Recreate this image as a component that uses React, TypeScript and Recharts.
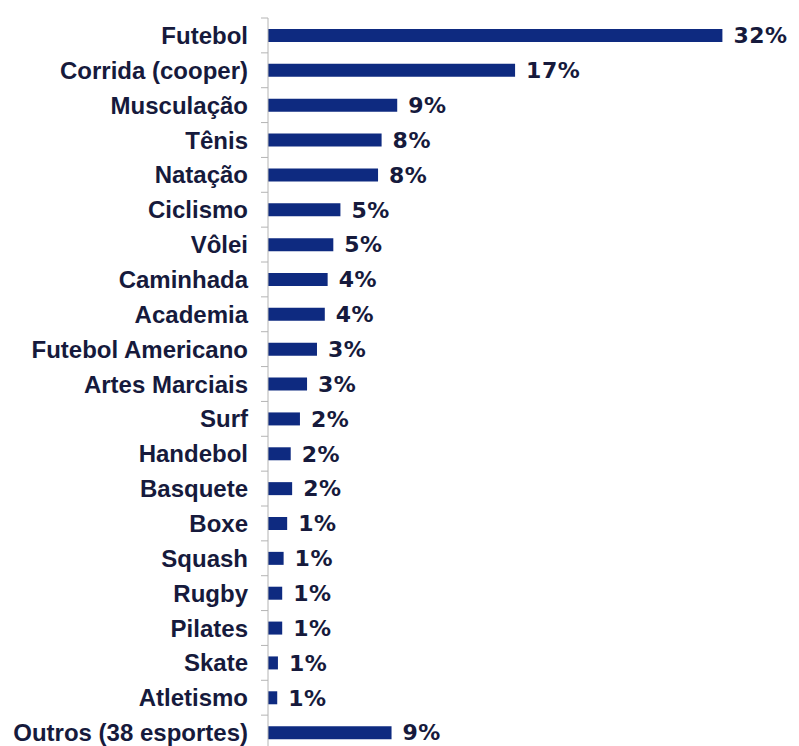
import React from 'react';
import { BarChart, Bar, XAxis, YAxis, LabelList } from 'recharts';

// Share of respondents per sport (%)
const sports = [
  'Futebol',
  'Corrida (cooper)',
  'Musculação',
  'Tênis',
  'Natação',
  'Ciclismo',
  'Vôlei',
  'Caminhada',
  'Academia',
  'Futebol Americano',
  'Artes Marciais',
  'Surf',
  'Handebol',
  'Basquete',
  'Boxe',
  'Squash',
  'Rugby',
  'Pilates',
  'Skate',
  'Atletismo',
  'Outros (38 esportes)',
];
const shares = [32.0, 17.4, 9.1, 8.0, 7.75, 5.1, 4.6, 4.2, 4.0, 3.45, 2.75, 2.25, 1.6, 1.7, 1.35, 1.1, 1.0, 1.0, 0.7, 0.65, 8.7];

const data = sports.map((name, i) => ({ name, value: shares[i] }));

const FONT = '"Liberation Sans", Arial, sans-serif';
const VALUE_FONT = '"DejaVu Sans", Verdana, sans-serif';
const TEXT = '#161a3c';
const BAR = '#0e2a80';
const AXIS = '#b4b4b4';

const CHART_H = 750;
const MARGIN_TOP = 18;
const GAP = 20; // distance from label end to axis line
const band = (CHART_H - MARGIN_TOP) / sports.length;

function CategoryTick(props: any) {
  const { x, y, payload } = props;
  const ax = x + GAP;
  return (
    <g>
      {/* Excel-style tick between categories */}
      <line x1={ax - 7} x2={ax} y1={y - band / 2} y2={y - band / 2} stroke={AXIS} strokeWidth={1} />
      <text
        x={x}
        y={y}
        dy="0.355em"
        textAnchor="end"
        fill={TEXT}
        fontSize={24}
        fontWeight="bold"
        fontFamily={FONT}
      >
        {payload.value}
      </text>
    </g>
  );
}

export default function App() {
  return (
    <div style={{ width: 799, height: 746, overflow: 'hidden', background: '#fff' }}>
      <style>{'body{margin:0}'}</style>
      <BarChart
        width={799}
        height={CHART_H}
        data={data}
        layout="vertical"
        margin={{ top: MARGIN_TOP, right: 34, bottom: 0, left: 0 }}
      >
        <XAxis type="number" domain={[0, 35]} hide />
        <YAxis
          type="category"
          dataKey="name"
          width={268}
          interval={0}
          tickSize={0}
          tickMargin={GAP}
          axisLine={{ stroke: AXIS }}
          tickLine={false}
          tick={<CategoryTick />}
        />
        <Bar dataKey="value" fill={BAR} barSize={13} isAnimationActive={false}>
          <LabelList
            dataKey="value"
            position="right"
            offset={11}
            formatter={(v: any) => `${Math.round(Number(v))}%`}
            fill={TEXT}
            fontSize={22}
            fontWeight="bold"
            fontFamily={VALUE_FONT}
            letterSpacing={0.5}
          />
        </Bar>
      </BarChart>
    </div>
  );
}
